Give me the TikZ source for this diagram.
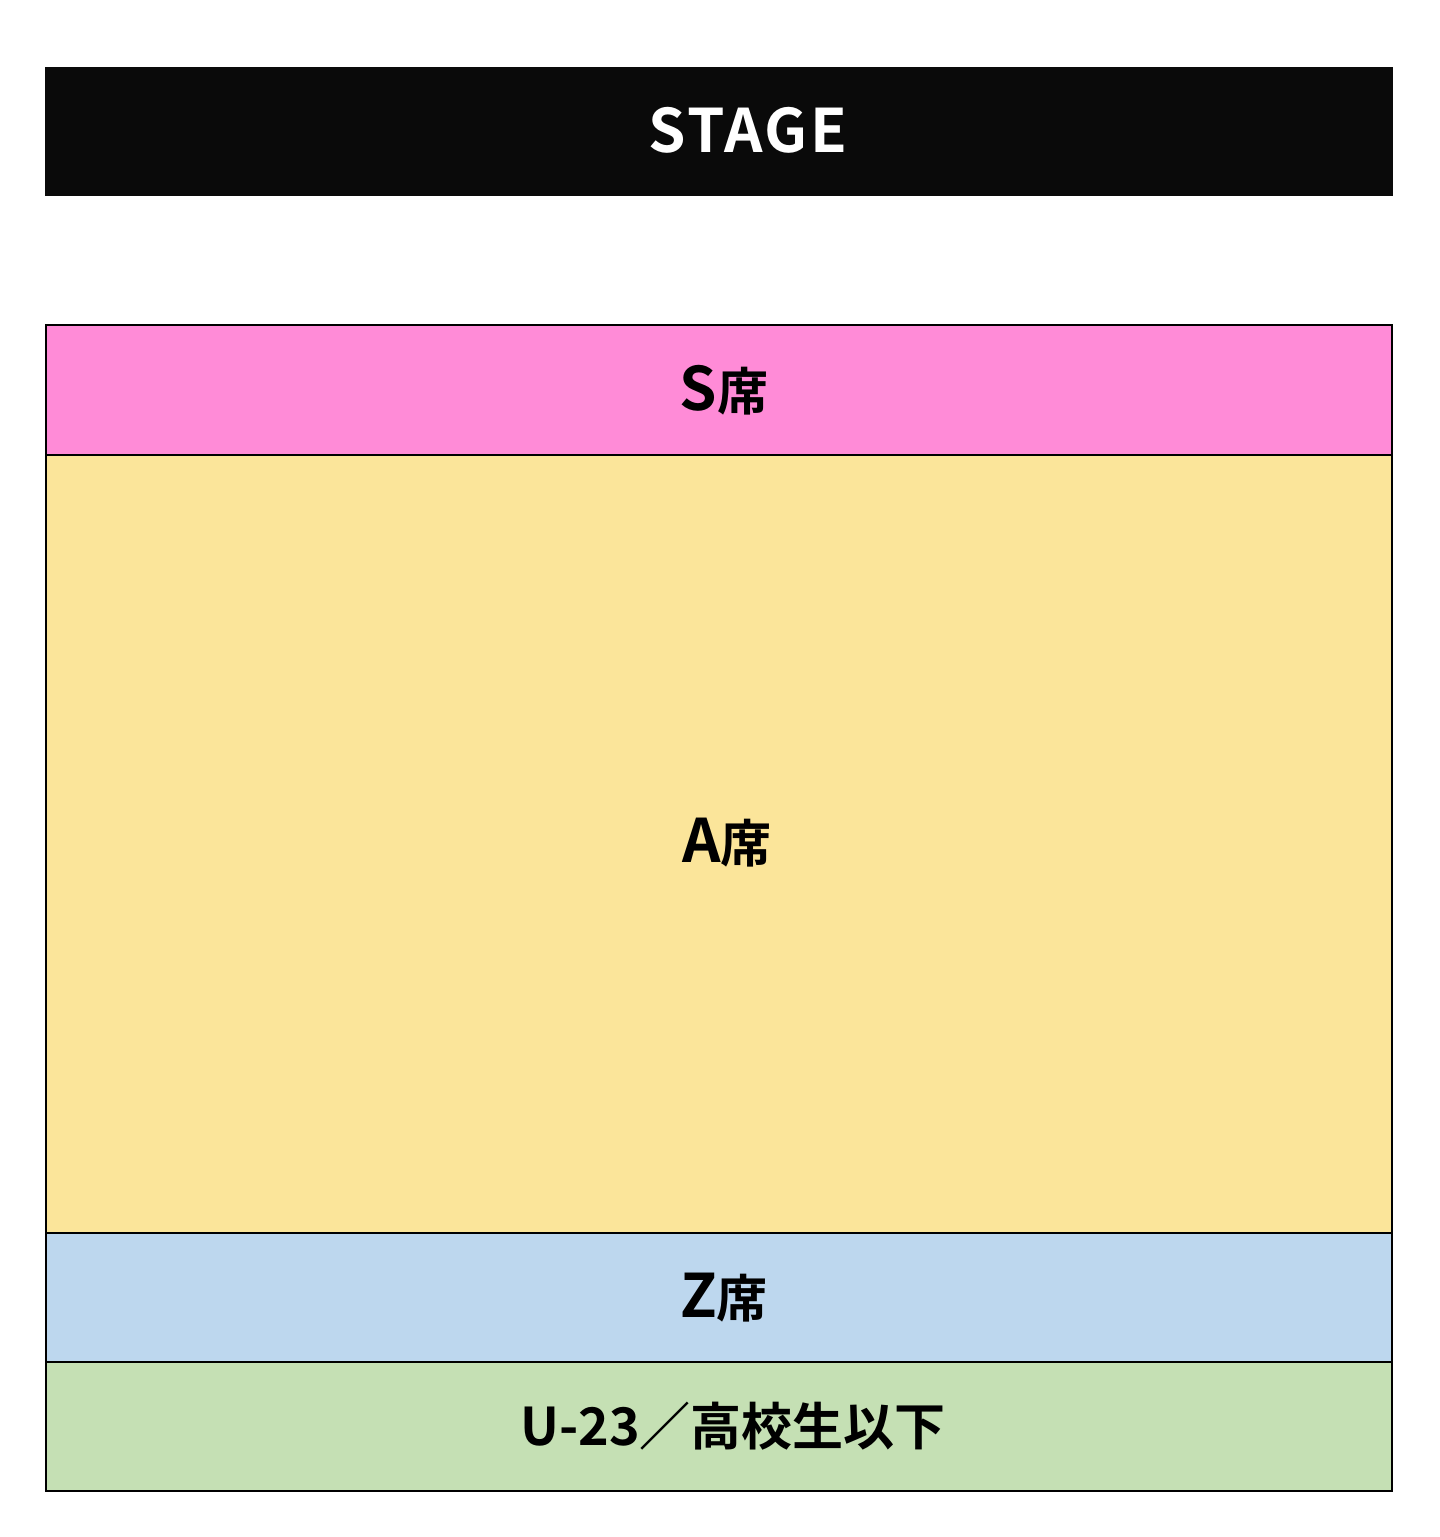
\documentclass[tikz,border=0pt]{standalone}
\usepackage{fontspec}
\newfontfamily\jpfont{Noto Sans CJK JP}[BoldFont={Noto Sans CJK JP Bold}]
\newcommand\jpc[1]{{\fontsize{25.5}{30}\selectfont #1}}
\begin{document}
\begin{tikzpicture}[x=0.5pt,y=-0.5pt,
  zone/.style={draw=black,line width=1pt,minimum width=673pt,inner sep=0pt,outer sep=0pt,anchor=north west},
  stagebox/.style={fill=stageblack,draw=none,minimum width=674pt,minimum height=64.5pt,inner sep=0pt,outer sep=0pt,anchor=north west},
  lbl/.style={inner sep=0pt,font=\jpfont\bfseries\fontsize{30}{36}\selectfont}]
\definecolor{stageblack}{HTML}{0A0A0A}
\definecolor{spink}{HTML}{FF8BD7}
\definecolor{ayellow}{HTML}{FBE59A}
\definecolor{zblue}{HTML}{BDD7EE}
\definecolor{ugreen}{HTML}{C5E0B4}
\useasboundingbox (0,0) rectangle (1440,1537);
\node[stagebox] (stage) at (44.5,66.5) {};
\node[zone,fill=spink,minimum height=65pt] (s) at (46,325) {};
\node[zone,fill=ayellow,minimum height=389pt] (a) at (46,455) {};
\node[zone,fill=zblue,minimum height=64.5pt] (z) at (46,1233) {};
\node[zone,fill=ugreen,minimum height=64.5pt] (u) at (46,1362) {};
\node[lbl,text=white] (stagetxt) at (748,130) {\addfontfeatures{LetterSpace=4}STAGE};
\node[lbl] (stxt) at (724,390) {S\jpc{席}};
\node[lbl] (atxt) at (727,843) {A\jpc{席}};
\node[lbl] (ztxt) at (724,1298) {Z\jpc{席}};
\node[lbl] (utxt) at (733,1426) {{\fontsize{26}{30}\selectfont U-23}\jpc{／高校生以下}};
\end{tikzpicture}
\end{document}
